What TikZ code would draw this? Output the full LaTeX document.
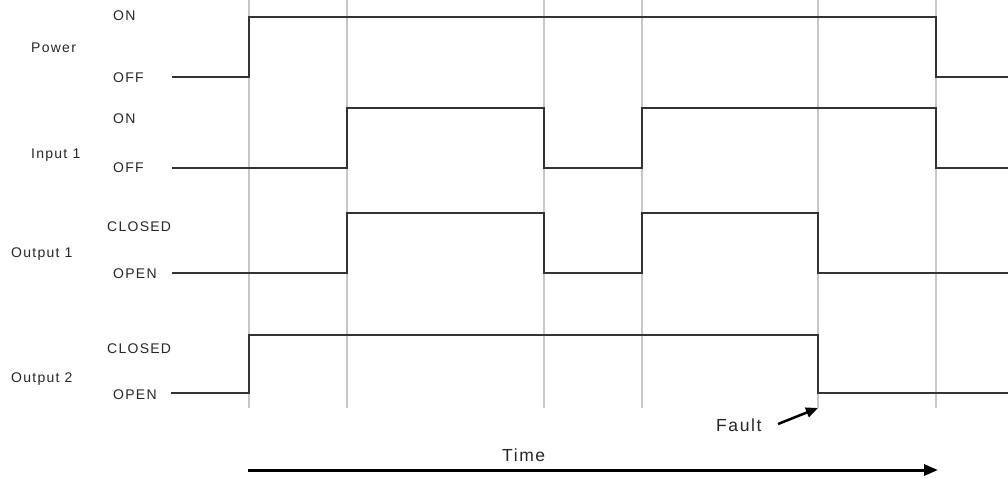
\documentclass[tikz,border=0pt]{standalone}
\usepackage{fontspec}
\setmainfont{Liberation Sans}[LetterSpace=9]
\usetikzlibrary{arrows.meta}
\begin{document}
\begin{tikzpicture}[x=1pt,y=-1pt,
  lbl/.style={anchor=base west,inner sep=0pt,font=\fontsize{14}{16}\selectfont,text=black!85},
  biglbl/.style={anchor=base west,inner sep=0pt,font=\fontsize{17.5}{20}\selectfont,text=black!85},
  grid/.style={draw=black!22,line width=2.5pt},
  sig/.style={draw=black!80,line width=1.6pt,line join=miter},
  timearrow/.style={draw=black,line width=3pt,-{Triangle[length=14pt,width=11pt]}},
  faultarrow/.style={draw=black,line width=2.5pt,-{Triangle[length=12pt,width=10pt]}}]
\useasboundingbox (0,0) rectangle (1008,477);
% grid lines
\foreach \x in {249,347,544,642,818,936}
  \draw[grid] (\x,0) -- (\x,408);
% labels
\node[lbl] (power) at (31,52) {Power};
\node[lbl] (pon) at (113,20) {ON};
\node[lbl] (poff) at (113,82) {OFF};
\node[lbl] (in1) at (31,158) {Input 1};
\node[lbl] (ion) at (113,123) {ON};
\node[lbl] (ioff) at (113,172) {OFF};
\node[lbl] (out1) at (11,257) {Output 1};
\node[lbl] (o1c) at (107,231) {CLOSED};
\node[lbl] (o1o) at (113,278) {OPEN};
\node[lbl] (out2) at (11,382) {Output 2};
\node[lbl] (o2c) at (107,353) {CLOSED};
\node[lbl] (o2o) at (113,399) {OPEN};
\node[biglbl] (fault) at (716,431) {Fault};
\node[biglbl] (time) at (502,461) {Time};
% signals
\coordinate (ps) at (172,77);
\coordinate (is) at (172,168);
\coordinate (o1s) at (172,273);
\coordinate (o2s) at (171,393);
\draw[sig] (ps) -- (249,77) -- (249,17) -- (936,17) -- (936,77) -- (1008,77);
\draw[sig] (is) -- (347,168) -- (347,108) -- (544,108) -- (544,168) -- (642,168) -- (642,108) -- (936,108) -- (936,168) -- (1008,168);
\draw[sig] (o1s) -- (347,273) -- (347,213) -- (544,213) -- (544,273) -- (642,273) -- (642,213) -- (818,213) -- (818,273) -- (1008,273);
\draw[sig] (o2s) -- (249,393) -- (249,335) -- (818,335) -- (818,393) -- (1008,393);
% fault arrow
\coordinate (faultpt) at (818,408);
\draw[faultarrow] (778,424) -- (faultpt);
% time arrow
\coordinate (t0) at (248,470);
\coordinate (t1) at (938,470);
\draw[timearrow] (t0) -- (t1);
\end{tikzpicture}
\end{document}
